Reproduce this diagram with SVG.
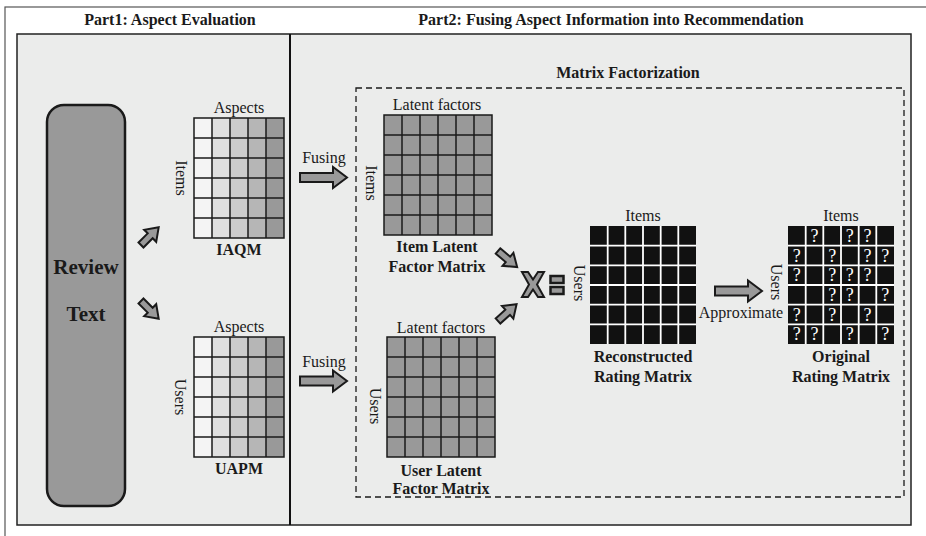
<svg xmlns="http://www.w3.org/2000/svg" xmlns:xlink="http://www.w3.org/1999/xlink" width="926" height="536" viewBox="0 0 926 536">
  <style>
    text { font-family: "Liberation Serif", "Times New Roman", serif; fill: #1a1a1a; }
    .title { font-size: 16px; font-weight: bold; text-anchor: middle; }
    .lbl { font-size: 16px; text-anchor: middle; }
    .blbl { font-size: 16px; font-weight: bold; text-anchor: middle; }
    .big { font-size: 21px; font-weight: bold; text-anchor: middle; }
    .q { font-size: 18px; fill: #ffffff; text-anchor: middle; }
    .grid { fill: none; stroke: #1a1a1a; stroke-width: 1.5; }
    .wgrid { fill: none; stroke: #ffffff; stroke-width: 1.8; }
    .arrow { fill: #999999; stroke: #1a1a1a; stroke-width: 2; stroke-linejoin: miter; }
  </style>
  <defs>
    <!-- right-pointing block arrows, tail at origin -->
    <path id="fatArrow" d="M0,-4.5 H33 V-10.5 L47,0 L33,10.5 V4.5 H0 Z"/>
    <path id="smallArrow" d="M0,-3.5 H13 V-8.5 L25,0 L13,8.5 V3.5 H0 Z"/>
  </defs>

  <!-- outer frame and panels -->
  <rect x="5" y="7" width="940" height="560" fill="#ffffff" stroke="#555555" stroke-width="1.2"/>
  <rect x="17" y="34" width="894" height="491" fill="#ebeceb" stroke="#222222" stroke-width="1.5"/>
  <line x1="290" y1="34" x2="290" y2="525" stroke="#111111" stroke-width="2"/>
  <text class="title" x="170" y="25">Part1: Aspect Evaluation</text>
  <text class="title" x="611" y="25">Part2: Fusing Aspect Information into Recommendation</text>

  <!-- matrix factorization frame -->
  <rect x="356" y="88" width="548" height="409" fill="none" stroke="#1a1a1a" stroke-width="1.3" stroke-dasharray="6,4"/>
  <text class="title" x="628" y="78">Matrix Factorization</text>

  <!-- review text -->
  <g id="review-text">
    <rect x="47" y="105" width="78" height="401" rx="17" fill="#999999" stroke="#1a1a1a" stroke-width="2.5"/>
    <text class="big" x="86" y="274">Review</text>
    <text class="big" x="86" y="321">Text</text>
  </g>

  <!-- item aspect quality matrix -->
  <g id="iaqm">
    <rect x="194" y="118" width="18" height="120" fill="#f4f4f4"/>
    <rect x="212" y="118" width="18" height="120" fill="#e0e0e0"/>
    <rect x="230" y="118" width="18" height="120" fill="#cccccc"/>
    <rect x="248" y="118" width="18" height="120" fill="#b6b6b6"/>
    <rect x="266" y="118" width="18" height="120" fill="#999999"/>
    <path class="grid" d="M194,118 H284 V238 H194 Z M212,118 V238 M230,118 V238 M248,118 V238 M266,118 V238 M194,138 H284 M194,158 H284 M194,178 H284 M194,198 H284 M194,218 H284"/>
    <text class="lbl" x="239" y="113">Aspects</text>
    <text class="lbl" transform="translate(176,178) rotate(90)">Items</text>
    <text class="blbl" x="239" y="255">IAQM</text>
  </g>

  <!-- user aspect preference matrix -->
  <g id="uapm">
    <rect x="194" y="337" width="18" height="120" fill="#f4f4f4"/>
    <rect x="212" y="337" width="18" height="120" fill="#e0e0e0"/>
    <rect x="230" y="337" width="18" height="120" fill="#cccccc"/>
    <rect x="248" y="337" width="18" height="120" fill="#b6b6b6"/>
    <rect x="266" y="337" width="18" height="120" fill="#999999"/>
    <path class="grid" d="M194,337 H284 V457 H194 Z M212,337 V457 M230,337 V457 M248,337 V457 M266,337 V457 M194,357 H284 M194,377 H284 M194,397 H284 M194,417 H284 M194,437 H284"/>
    <text class="lbl" x="239" y="332">Aspects</text>
    <text class="lbl" transform="translate(175,397) rotate(90)">Users</text>
    <text class="blbl" x="239" y="474">UAPM</text>
  </g>

  <!-- item latent factor matrix -->
  <g id="item-latent">
    <rect x="384" y="115" width="108" height="120" fill="#999999"/>
    <path class="grid" d="M384,115 H492 V235 H384 Z M402,115 V235 M420,115 V235 M438,115 V235 M456,115 V235 M474,115 V235 M384,135 H492 M384,155 H492 M384,175 H492 M384,195 H492 M384,215 H492"/>
    <text class="lbl" x="437" y="110">Latent factors</text>
    <text class="lbl" transform="translate(366,183) rotate(90)">Items</text>
    <text class="blbl" x="437" y="252">Item Latent</text>
    <text class="blbl" x="437" y="272">Factor Matrix</text>
  </g>

  <!-- user latent factor matrix -->
  <g id="user-latent">
    <rect x="387" y="337" width="108" height="120" fill="#999999"/>
    <path class="grid" d="M387,337 H495 V457 H387 Z M405,337 V457 M423,337 V457 M441,337 V457 M459,337 V457 M477,337 V457 M387,357 H495 M387,377 H495 M387,397 H495 M387,417 H495 M387,437 H495"/>
    <text class="lbl" x="441" y="333">Latent factors</text>
    <text class="lbl" transform="translate(370,406) rotate(90)">Users</text>
    <text class="blbl" x="441" y="476">User Latent</text>
    <text class="blbl" x="441" y="494">Factor Matrix</text>
  </g>

  <!-- product and equality symbols -->
  <g id="times-sign">
    <polygon points="-11,-12.5 -5,-12.5 0,-5 5,-12.5 11,-12.5 4,0 11,12.5 5,12.5 0,5 -5,12.5 -11,12.5 -4,0" transform="translate(533,284.5)" fill="#999999" stroke="#1a1a1a" stroke-width="2" stroke-linejoin="miter"/>
  </g>
  <g id="equals-sign">
    <rect x="550.5" y="276" width="13" height="7" fill="#999999" stroke="#1a1a1a" stroke-width="2.5"/>
    <rect x="550.5" y="287" width="13" height="7" fill="#999999" stroke="#1a1a1a" stroke-width="2.5"/>
  </g>

  <!-- reconstructed rating matrix -->
  <g id="reconstructed">
    <rect x="590" y="226" width="106" height="118" fill="#111111"/>
    <path class="wgrid" d="M607.7,226 V344 M625.3,226 V344 M643,226 V344 M660.7,226 V344 M678.3,226 V344 M590,245.7 H696 M590,265.3 H696 M590,285 H696 M590,304.7 H696 M590,324.3 H696"/>
    <text class="lbl" x="643" y="221">Items</text>
    <text class="lbl" transform="translate(574,283) rotate(90)">Users</text>
    <text class="blbl" x="643" y="362">Reconstructed</text>
    <text class="blbl" x="643" y="382">Rating Matrix</text>
  </g>

  <!-- original rating matrix with unknown entries -->
  <g id="original">
    <rect x="788" y="226" width="106" height="118" fill="#111111"/>
    <path class="wgrid" d="M805.7,226 V344 M823.3,226 V344 M841,226 V344 M858.7,226 V344 M876.3,226 V344 M788,245.7 H894 M788,265.3 H894 M788,285 H894 M788,304.7 H894 M788,324.3 H894"/>
    <text class="q" x="814.5" y="242">?</text>
    <text class="q" x="849.8" y="242">?</text>
    <text class="q" x="867.5" y="242">?</text>
    <text class="q" x="796.8" y="261.5">?</text>
    <text class="q" x="832.2" y="261.5">?</text>
    <text class="q" x="867.5" y="261.5">?</text>
    <text class="q" x="885.2" y="261.5">?</text>
    <text class="q" x="796.8" y="281">?</text>
    <text class="q" x="832.2" y="281">?</text>
    <text class="q" x="849.8" y="281">?</text>
    <text class="q" x="867.5" y="281">?</text>
    <text class="q" x="832.2" y="301">?</text>
    <text class="q" x="849.8" y="301">?</text>
    <text class="q" x="885.2" y="301">?</text>
    <text class="q" x="796.8" y="320.5">?</text>
    <text class="q" x="832.2" y="320.5">?</text>
    <text class="q" x="867.5" y="320.5">?</text>
    <text class="q" x="796.8" y="340">?</text>
    <text class="q" x="814.5" y="340">?</text>
    <text class="q" x="849.8" y="340">?</text>
    <text class="q" x="885.2" y="340">?</text>
    <text class="lbl" x="841" y="221">Items</text>
    <text class="lbl" transform="translate(771,282) rotate(90)">Users</text>
    <text class="blbl" x="841" y="362">Original</text>
    <text class="blbl" x="841" y="382">Rating Matrix</text>
  </g>

  <!-- connectors -->
  <g id="connectors">
    <use xlink:href="#smallArrow" class="arrow" transform="translate(141,245) rotate(-45)"/>
    <use xlink:href="#smallArrow" class="arrow" transform="translate(141,301) rotate(45)"/>
    <use xlink:href="#fatArrow" class="arrow" transform="translate(300,177.5)"/>
    <text class="lbl" x="324" y="163">Fusing</text>
    <use xlink:href="#fatArrow" class="arrow" transform="translate(300,381)"/>
    <text class="lbl" x="324" y="367">Fusing</text>
    <use xlink:href="#smallArrow" class="arrow" transform="translate(498,251) rotate(40)"/>
    <use xlink:href="#smallArrow" class="arrow" transform="translate(498,321) rotate(-42)"/>
    <use xlink:href="#fatArrow" class="arrow" transform="translate(715,291)"/>
    <text class="lbl" x="741" y="318">Approximate</text>
  </g>
</svg>
